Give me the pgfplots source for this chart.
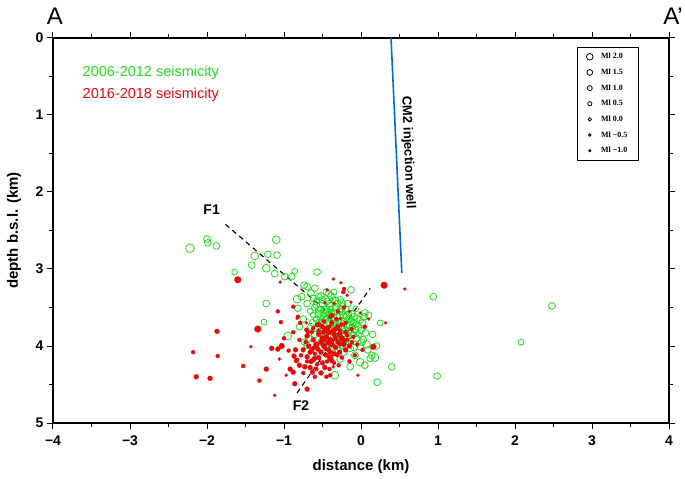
\documentclass[border=0pt]{standalone}
\usepackage{fontspec}
\setmainfont{Liberation Sans}
\newfontfamily\legfont{Liberation Serif}
\usepackage{pgfplots}
\pgfplotsset{compat=1.18}
\definecolor{gcol}{RGB}{30,220,30}
\definecolor{rcol}{RGB}{230,10,10}
\definecolor{wcol}{RGB}{0,105,215}
\begin{document}
\begin{tikzpicture}
\begin{axis}[
 scale only axis, width=616pt, height=385pt,
 xmin=-4, xmax=4, ymin=0, ymax=5, y dir=reverse,
 xtick={-4,...,4}, xticklabels={−4,−3,−2,−1,0,1,2,3,4},
 ytick={0,...,5},
 minor x tick num=1, minor y tick num=1,
 tick align=outside, major tick length=6pt, minor tick length=3.5pt,
 axis line style={line width=1.1pt},
 tick style={line width=1pt, black},
 ticklabel style={font=\fontsize{14}{16}\selectfont\bfseries},
 xticklabel style={yshift=-3pt},
 /pgf/number format/assume math mode=true,
 xlabel={distance (km)}, ylabel={depth b.s.l. (km)},
 label style={font=\fontsize{15}{18}\selectfont\bfseries},
 xlabel style={at={(axis description cs:0.5,-0.1143)}, anchor=center},
 ylabel style={at={(axis description cs:-0.0633,0.5)}, anchor=center},
 clip=false,
 legend style={at={(axis description cs:0.951,0.977)}, anchor=north east, draw=black, line width=0.8pt,
   font=\legfont\bfseries\fontsize{8}{9}\selectfont, row sep=4.6pt, inner xsep=9pt, inner ysep=4pt,
   cells={anchor=west}, /tikz/every odd column/.append style={column sep=6pt}},
 legend cell align=left,
]
% green 2006-2012 events (x, depth, magnitude)
\addplot[scatter, only marks, mark=o, point meta=explicit,
  visualization depends on={\thisrow{m} \as \magval},
  scatter/@pre marker code/.code={\pgfmathsetmacro\msz{2.9+1.0*\magval}\scope[mark size=\msz pt, draw=gcol, line width=0.8pt]},
  scatter/@post marker code/.code={\endscope}, forget plot]
 table[x=x, y=y, meta=m] {
x y m
-2.22 2.73 1.5
-2.00 2.61 0.5
-1.99 2.66 0.5
-1.88 2.70 0.5
-1.10 2.62 1.0
-1.38 2.83 1.0
-1.21 2.81 0.5
-1.09 2.82 0.5
-1.42 2.95 0.5
-1.23 2.99 1.0
-1.64 3.04 0.0
-1.12 3.06 0.5
-0.99 3.10 0.5
-0.90 3.10 0.5
-0.86 3.03 0.0
-1.23 3.45 0.5
-1.26 3.69 0.0
-0.83 3.39 1.0
-0.82 3.51 0.5
-0.95 3.87 1.0
-0.74 3.21 0.5
-0.70 3.23 0.5
-0.77 3.36 0.5
-0.65 3.31 0.5
-0.62 3.38 0.5
-0.55 3.36 0.5
-0.57 3.04 0.5
-0.42 3.32 0.5
-0.27 3.40 0.5
-0.25 3.44 0.5
-0.13 3.27 0.5
0.05 3.57 0.5
-0.05 3.64 0.5
-0.01 3.66 0.5
-0.04 3.75 1.0
0.06 3.83 0.5
-0.12 3.86 0.5
0.01 3.95 0.5
-0.01 4.01 0.5
-0.14 4.03 0.5
-0.08 4.12 0.5
0.09 4.05 0.5
0.14 4.12 0.5
0.12 4.16 0.5
-0.01 4.21 1.0
-0.27 4.17 0.5
-0.14 4.27 0.5
0.40 4.27 0.5
0.21 4.47 0.5
-0.34 4.38 1.0
-0.73 3.95 0.5
-0.70 3.99 0.5
-0.55 3.53 0.5
0.94 3.36 0.5
2.48 3.48 0.5
2.08 3.95 0.0
0.99 4.39 0.5
-0.60 3.50 0.5
-0.55 3.58 1.0
-0.50 3.45 0.5
-0.48 3.62 1.0
-0.45 3.52 0.5
-0.42 3.70 0.5
-0.40 3.48 1.0
-0.38 3.58 0.5
-0.35 3.66 0.0
-0.33 3.50 0.5
-0.30 3.75 1.0
-0.28 3.60 0.5
-0.25 3.55 0.5
-0.22 3.68 0.5
-0.20 3.80 0.5
-0.18 3.62 1.0
-0.15 3.72 0.5
-0.12 3.58 0.5
-0.10 3.85 0.0
-0.55 3.70 0.5
-0.52 3.80 0.5
-0.58 3.65 0.5
-0.62 3.60 0.0
-0.47 3.75 0.5
-0.43 3.85 0.5
-0.37 3.78 1.0
-0.32 3.88 0.5
-0.27 3.92 0.5
-0.23 3.95 0.5
-0.18 3.90 0.5
-0.50 3.40 0.5
-0.44 3.42 0.5
-0.36 3.40 0.0
-0.30 3.45 0.5
-0.24 3.48 0.5
-0.58 3.42 0.5
-0.48 3.53 0.5
-0.40 3.62 0.5
-0.34 3.56 0.5
-0.46 3.66 0.5
-0.26 3.70 0.5
-0.20 3.52 0.5
-0.14 3.65 0.5
-0.08 3.78 0.5
-0.65 3.75 0.5
-0.60 3.85 0.5
-0.52 3.95 0.5
-0.45 3.98 0.5
-0.38 4.02 0.5
-0.30 4.05 0.5
-0.22 4.08 0.5
-0.41 3.77 0.5
-0.29 3.83 0.5
-0.16 3.82 0.5
-0.10 3.70 0.5
-0.06 3.90 0.5
0.00 3.80 0.5
0.03 3.92 0.5
0.07 3.98 1.0
-0.75 3.65 0.5
-0.80 3.75 0.5
-0.68 3.90 0.5
0.10 3.60 0.5
0.15 3.85 0.5
0.20 4.00 0.5
0.18 4.15 1.0
0.05 4.25 0.5
0.25 3.70 0.0
-0.70 3.45 0.5
-0.45 3.30 0.5
-0.35 3.30 0.0
-0.60 3.25 0.5
-0.58 3.47 0.5
-0.53 3.52 0.0
-0.47 3.58 0.5
-0.43 3.63 0.5
-0.39 3.53 0.0
-0.36 3.71 0.5
-0.31 3.62 0.5
-0.27 3.52 0.0
-0.23 3.60 0.5
-0.19 3.74 0.5
-0.16 3.58 0.0
-0.13 3.68 0.5
-0.09 3.62 0.5
-0.06 3.72 0.0
-0.53 3.63 0.5
-0.50 3.68 0.0
-0.44 3.56 0.5
-0.41 3.45 0.5
-0.33 3.41 0.5
-0.29 3.68 0.0
-0.24 3.78 0.5
-0.21 3.86 0.5
-0.17 3.66 0.5
-0.11 3.76 0.0
-0.57 3.78 0.5
-0.49 3.85 0.5
-0.39 3.88 0.5
-0.34 3.94 0.0
-0.26 3.99 0.5
-0.13 3.94 0.5
-0.09 4.02 0.5
-0.03 3.85 0.0
0.02 3.70 0.5
-0.63 3.70 0.5
-0.66 3.55 0.0
-0.52 3.35 0.5
-0.39 3.35 0.5
-0.17 3.45 0.5
-0.07 3.52 0.0
0.04 3.62 0.5
};
% red 2016-2018 events
\addplot[scatter, only marks, mark=*, point meta=explicit,
  visualization depends on={\thisrow{m} \as \magval},
  scatter/@pre marker code/.code={\pgfmathsetmacro\msz{2.5+0.9*\magval}\scope[mark size=\msz pt, draw=rcol, fill=rcol, line width=0.2pt]},
  scatter/@post marker code/.code={\endscope}, forget plot]
 table[x=x, y=y, meta=m] {
x y m
-1.60 3.14 1.0
-1.05 3.17 -1.0
-1.08 3.55 -0.5
-1.04 3.69 -0.5
-0.82 3.62 -0.5
-0.88 3.49 -0.5
-1.34 3.78 1.0
-1.87 3.81 0.0
-2.18 4.08 -0.5
-1.86 4.13 -0.5
-1.43 4.01 -1.0
-1.16 4.03 0.0
-1.08 4.04 0.0
-1.03 4.00 0.5
-1.00 3.90 -0.5
-0.88 3.82 -0.5
-0.94 4.06 -0.5
-0.87 4.13 0.0
-0.84 4.19 0.0
-1.06 4.17 -1.0
-1.53 4.26 -0.5
-1.23 4.30 0.0
-2.14 4.40 0.0
-1.96 4.42 0.0
-1.32 4.45 -0.5
-0.92 4.30 0.0
-0.88 4.34 0.0
-0.97 4.38 -1.0
-0.86 4.49 0.0
-0.70 4.56 0.0
-1.12 4.64 -1.0
-0.36 3.13 -1.0
-0.26 3.18 -1.0
-0.22 3.26 -0.5
-0.23 3.30 -0.5
0.30 3.21 1.0
0.57 3.26 -1.0
-0.18 3.34 -1.0
-0.13 3.43 -1.0
-0.01 3.57 -1.0
0.32 3.70 -1.0
0.16 4.01 0.5
-0.04 4.38 -1.0
-0.36 4.27 -1.0
-0.40 4.38 -0.5
-0.47 3.44 -1.0
-0.44 3.27 -1.0
-0.83 3.64 -1.0
-0.79 3.70 -0.5
-0.71 3.70 -1.0
-0.71 3.79 -0.5
-0.69 3.82 -0.5
-0.57 3.73 -0.5
-0.62 3.77 -0.5
-0.64 4.05 0.0
-0.70 4.14 0.0
-0.62 4.18 0.0
-0.60 4.16 0.0
-0.55 3.85 0.0
-0.50 3.90 0.5
-0.45 3.88 0.0
-0.40 3.92 0.5
-0.35 3.85 0.0
-0.30 3.95 0.0
-0.25 3.90 0.5
-0.20 3.82 0.0
-0.48 4.00 0.5
-0.42 4.05 0.0
-0.38 3.98 0.5
-0.33 4.02 0.0
-0.28 4.08 0.0
-0.52 4.08 0.0
-0.58 3.98 0.5
-0.62 3.92 0.0
-0.45 4.12 0.0
-0.40 4.15 0.5
-0.35 4.10 0.0
-0.55 4.15 0.0
-0.60 4.10 -0.5
-0.30 3.75 0.0
-0.25 3.72 -0.5
-0.38 3.70 0.0
-0.45 3.78 0.5
-0.50 3.75 0.0
-0.22 3.98 0.0
-0.18 3.92 -0.5
-0.15 4.00 0.0
-0.10 3.88 -0.5
-0.32 3.65 -0.5
-0.40 3.62 -0.5
-0.20 3.70 -0.5
-0.12 3.78 -0.5
-0.48 3.68 -0.5
-0.55 3.72 0.0
-0.42 3.82 0.5
-0.36 3.80 0.0
-0.28 3.85 0.5
-0.50 4.22 0.0
-0.44 4.20 -0.5
-0.65 4.20 0.0
-0.68 4.00 0.0
-0.72 3.95 -0.5
-0.75 4.05 0.0
-0.78 4.12 -0.5
-0.66 4.28 0.0
-0.58 4.30 -0.5
-0.52 4.35 0.0
-0.47 4.28 0.0
-0.80 3.92 -0.5
-0.35 4.22 -0.5
-0.25 4.15 -0.5
-0.05 3.98 -0.5
0.02 4.05 -0.5
-0.08 4.12 -0.5
-0.15 4.20 -0.5
0.10 3.65 -1.0
0.05 3.75 -0.5
-0.30 3.55 -0.5
-0.22 3.50 -0.5
-0.15 3.55 -1.0
-0.35 3.45 -1.0
-0.60 4.40 -0.5
-0.75 4.35 -0.5
-0.80 4.25 0.0
-0.52 3.95 0.0
-0.47 3.92 -0.5
-0.43 3.96 0.0
-0.37 3.93 -0.5
-0.33 3.90 0.0
-0.27 3.98 -0.5
-0.23 3.93 0.0
-0.46 4.04 -0.5
-0.40 4.08 0.0
-0.31 4.12 -0.5
-0.56 4.04 0.0
-0.61 4.02 -0.5
-0.66 4.08 0.0
-0.70 4.20 -0.5
-0.73 4.27 0.0
-0.83 4.18 -0.5
-0.85 4.05 0.0
-0.55 3.80 -0.5
-0.49 3.82 0.0
-0.41 3.75 -0.5
-0.33 3.78 0.0
-0.27 3.80 -0.5
-0.18 3.86 -0.5
-0.38 4.19 0.0
-0.57 4.24 -0.5
-0.63 4.34 0.0
-0.41 4.30 -0.5
-0.29 4.25 -0.5
-0.20 4.05 0.0
-0.12 3.95 -0.5
-0.70 3.87 0.0
-0.64 3.82 -0.5
-0.37 3.60 -0.5
-0.27 3.64 -1.0
-0.45 4.40 -0.5
};
% injection well
\addplot[wcol, line width=1.6pt, forget plot] coordinates {(0.39,0) (0.53,3.05)};
% faults
\addplot[black, line width=1.1pt, dash pattern=on 5pt off 4pt, forget plot] coordinates {(-1.76,2.42) (-0.15,3.80)};
\addplot[black, line width=1.1pt, dash pattern=on 5pt off 4pt, forget plot] coordinates {(-0.83,4.61) (0.12,3.25)};
% legend of magnitudes
\addlegendimage{only marks, mark=o, mark size=3.3pt, black, line width=0.8pt}
\addlegendentry{Ml 2.0}
\addlegendimage{only marks, mark=o, mark size=2.9pt, black, line width=0.8pt}
\addlegendentry{Ml 1.5}
\addlegendimage{only marks, mark=o, mark size=2.5pt, black, line width=0.8pt}
\addlegendentry{Ml 1.0}
\addlegendimage{only marks, mark=o, mark size=2.1pt, black, line width=0.8pt}
\addlegendentry{Ml 0.5}
\addlegendimage{only marks, mark=o, mark size=1.7pt, black, line width=0.8pt}
\addlegendentry{Ml 0.0}
\addlegendimage{only marks, mark=o, mark size=1.3pt, black, line width=0.8pt}
\addlegendentry{Ml −0.5}
\addlegendimage{only marks, mark=*, mark size=1.1pt, black}
\addlegendentry{Ml −1.0}
% texts
\node[anchor=base west, text=gcol, font=\fontsize{14.5}{17}\selectfont] at (axis cs:-3.66,0.506) {2006-2012 seismicity};
\node[anchor=base west, text=rcol, font=\fontsize{14.5}{17}\selectfont] at (axis cs:-3.66,0.78) {2016-2018 seismicity};
\node[font=\fontsize{14}{16}\selectfont\bfseries] at (axis cs:-1.94,2.23) {F1};
\node[font=\fontsize{14}{16}\selectfont\bfseries] at (axis cs:-0.78,4.77) {F2};
\node[font=\fontsize{13}{15}\selectfont\bfseries, rotate=-87.6] at (axis cs:0.61,1.49) {CM2 injection well};
\node[anchor=base, inner sep=0pt, font=\fontsize{24}{28}\selectfont, xshift=2pt, yshift=13pt] at (axis description cs:0,1) {A};
\node[anchor=base east, inner sep=0pt, font=\fontsize{24}{28}\selectfont, xshift=14pt, yshift=13pt] at (axis description cs:1,1) {A’};
\end{axis}
\pgfresetboundingbox
\path ([shift={(-53pt,-56pt)}]current axis.south west) rectangle ([shift={(16pt,38pt)}]current axis.north east);
\end{tikzpicture}
\end{document}
